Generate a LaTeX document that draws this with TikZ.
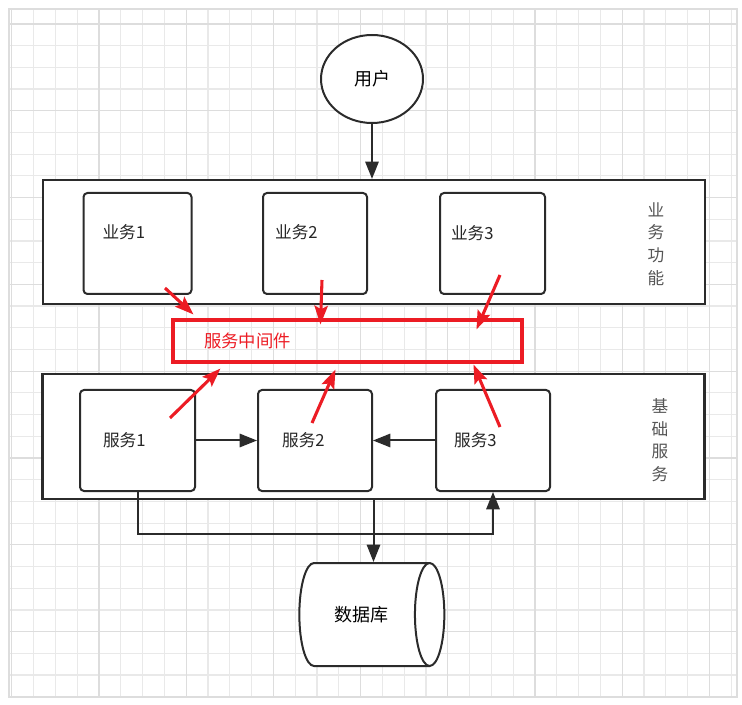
\documentclass[tikz,border=0pt]{standalone}
\usepackage{fontspec}
\setmainfont{Noto Sans CJK SC}
\usepackage{tikz}
\usetikzlibrary{arrows.meta, positioning, shapes.geometric}
\definecolor{FrameDark}{HTML}{2B2B2B}
\definecolor{MidRed}{HTML}{EC1C24}
\definecolor{GridLine}{HTML}{E9E9E9}
\definecolor{GridMajor}{HTML}{DDDDDD}
\definecolor{SideGray}{HTML}{555555}

\begin{document}
\begin{tikzpicture}[
    x=0.75pt, y=-0.75pt,
    layer/.style={
      rectangle, draw=FrameDark, line width=1.6pt, fill=white,
      minimum width=496.5pt, minimum height=93pt
    },
    unit/.style={
      rectangle, rounded corners=3pt, draw=FrameDark, line width=1.5pt,
      fill=white, minimum height=75.75pt
    },
    boxtext/.style={font=\fontsize{12.5}{14}\selectfont, text=black!85, anchor=west},
    side/.style={font=\fontsize{12.5}{16.9}\selectfont, text=SideGray, align=center},
    flow/.style={-{Triangle[length=13pt, width=10pt]}, draw=FrameDark, line width=1.5pt},
    hit/.style={-{Stealth[length=14pt, width=10pt, inset=2.5pt]}, draw=MidRed, line width=2.3pt}
  ]
  \useasboundingbox (0,0) rectangle (742,705);

  % background grid
  \foreach \k in {0,...,33}
    \draw[GridLine, line width=0.9pt] ({11.7+21.8*\k},10) -- ({11.7+21.8*\k},696);
  \foreach \k in {1,...,31}
    \draw[GridLine, line width=0.9pt] (10,{2.3+21.7*\k}) -- (737,{2.3+21.7*\k});
  \foreach \k in {0,4,...,32}
    \draw[GridMajor, line width=0.9pt] ({11.7+21.8*\k},10) -- ({11.7+21.8*\k},696);
  \foreach \k in {1,5,...,29}
    \draw[GridMajor, line width=0.9pt] (10,{2.3+21.7*\k}) -- (737,{2.3+21.7*\k});
  \draw[GridMajor, line width=1.5pt] (9,9) rectangle (737,697);

  % user
  \node[ellipse, draw=FrameDark, line width=1.5pt, fill=white, minimum width=76.5pt,
        minimum height=66pt, font=\fontsize{13.5}{15}\selectfont] (user) at (372,79) {用户};

  % business layer
  \node[layer] (bizlayer) at (374,242) {};
  \node[unit, minimum width=81pt, label={[boxtext, xshift=11.5pt, yshift=8.6pt]west:业务1}] (biz1) at (137.5,243.5) {};
  \node[unit, minimum width=78pt, label={[boxtext, xshift=6.3pt, yshift=8.6pt]west:业务2}] (biz2) at (315,243.5) {};
  \node[unit, minimum width=78.75pt, label={[boxtext, xshift=5.5pt, yshift=7.9pt]west:业务3}] (biz3) at (492.5,243.5) {};
  \node[side] (biztitle) at (656,244) {业\\务\\功\\能};

  % middleware
  \node[rectangle, draw=MidRed, line width=2.3pt, minimum width=261.75pt, minimum height=31.5pt,
        label={[boxtext, text=MidRed, font=\fontsize{13}{15}\selectfont, xshift=21pt]west:服务中间件}] (mid) at (347.5,341) {};

  % base layer
  \node[layer, minimum height=93.75pt] (baselayer) at (373.5,436.5) {};
  \node[unit, minimum width=86.25pt, label={[boxtext, xshift=14.5pt]west:服务1}] (svc1) at (137.5,440.5) {};
  \node[unit, minimum width=85.5pt, label={[boxtext, xshift=15.3pt]west:服务2}] (svc2) at (315,440.5) {};
  \node[unit, minimum width=85.5pt, label={[boxtext, xshift=10.8pt]west:服务3}] (svc3) at (493,440.5) {};
  \node[side] (basetitle) at (660,440) {基\\础\\服\\务};

  % database
  \node[cylinder, draw=FrameDark, line width=1.5pt, fill=white, minimum width=77.25pt,
        minimum height=108.75pt, shape aspect=1.15, font=\fontsize{13.5}{15}\selectfont] (db) at (361,614.5) {数据库};

  % red tails
  \coordinate (biztail1) at (165,288);
  \coordinate (biztail2) at (322,280);
  \coordinate (biztail3) at (500,275);
  \coordinate (svctail1) at (170,418);
  \coordinate (svctail2) at (312,423);
  \coordinate (svctail3) at (500,427);

  \draw[flow] (user) -- (user |- bizlayer.north);
  \draw[flow] (svc1) -- (svc2);
  \draw[flow] (svc3) -- (svc2);
  \draw[flow] (svc1.south) -- ++(0,42) -| (svc3.south);
  \draw[flow] (baselayer.south) -- (baselayer.south |- db.north);

  \draw[hit] (biztail1) -- ([xshift=16.5pt, yshift=3pt]mid.north west);
  \draw[hit] (biztail2) -- ([xshift=111.75pt, yshift=-4.5pt]mid.north west);
  \draw[hit] (biztail3) -- ([xshift=228.75pt, yshift=-8.25pt]mid.north west);
  \draw[hit] (svctail1) -- ([xshift=36.75pt, yshift=-3.75pt]mid.south west);
  \draw[hit] (svctail2) -- ([xshift=123pt, yshift=-4.5pt]mid.south west);
  \draw[hit] (svctail3) -- ([xshift=226.5pt, yshift=-0.75pt]mid.south west);
\end{tikzpicture}
\end{document}
